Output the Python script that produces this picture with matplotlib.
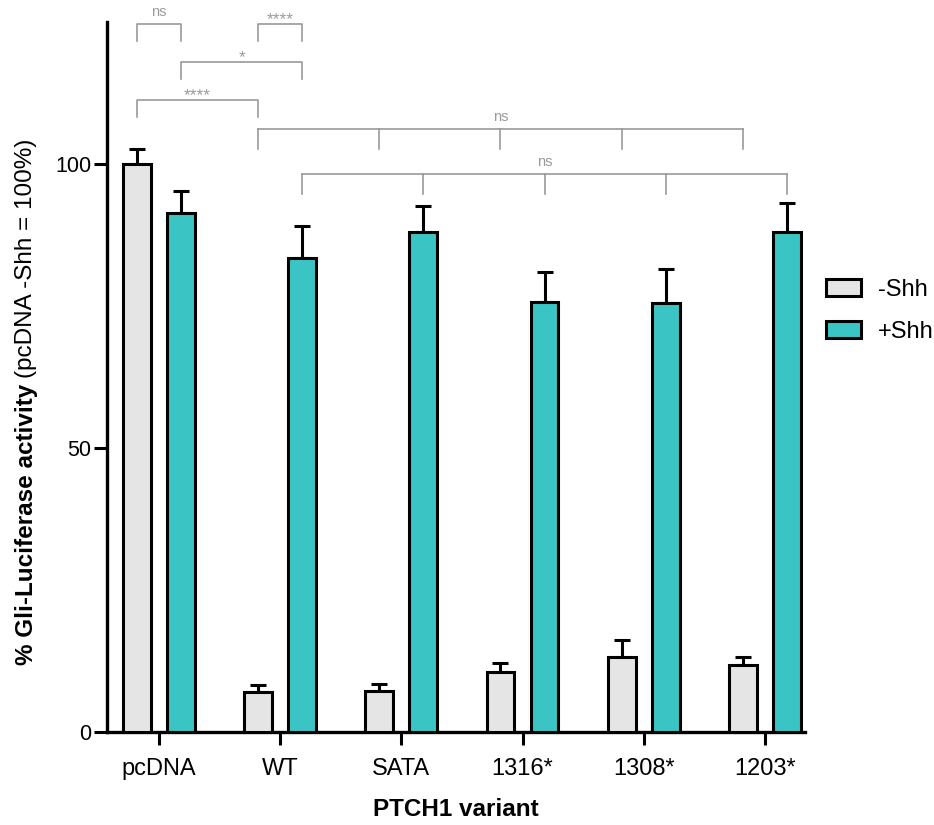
import numpy as np
import matplotlib.pyplot as plt

plt.rcParams['font.family'] = ['Liberation Sans', 'DejaVu Sans']

variants = ['pcDNA', 'WT', 'SATA', '1316*', '1308*', '1203*']
minus_shh = [100.0, 7.1, 7.2, 10.6, 13.2, 11.8]
minus_err = [2.6, 1.1, 1.3, 1.6, 3.0, 1.4]
plus_shh = [91.4, 83.4, 88.0, 75.7, 75.5, 88.0]
plus_err = [3.9, 5.7, 4.6, 5.3, 6.0, 5.1]

# significance: (group, series) pairs, bracket height, label
pair_tests = [
    ((0, 0), (0, 1), 124.7, 'ns'),
    ((1, 0), (1, 1), 124.7, '****'),
    ((0, 1), (1, 1), 118.0, '*'),
    ((0, 0), (1, 0), 111.3, '****'),
]
multi_tests = [
    (0, [1, 2, 3, 4, 5], 106.2, 'ns'),
    (1, [1, 2, 3, 4, 5], 98.2, 'ns'),
]

grey = '#e5e5e5'
teal = '#3bc4c4'
sig_col = '#9a9a9a'

fig = plt.figure(figsize=(9.34, 8.25), dpi=100)
ax = fig.add_axes([0.1146, 0.1127, 0.747, 0.8606])

x = np.arange(len(variants))
w = 0.23
off = 0.182
ax.bar(x - off, minus_shh, w, color=grey, edgecolor='black', linewidth=2.2, label='-Shh', zorder=3)
ax.bar(x + off, plus_shh, w, color=teal, edgecolor='black', linewidth=2.2, label='+Shh', zorder=3)
ax.errorbar(x - off, minus_shh, yerr=[np.zeros(6), minus_err], fmt='none', ecolor='black',
            elinewidth=2.2, capsize=6, capthick=2.2, zorder=2)
ax.errorbar(x + off, plus_shh, yerr=[np.zeros(6), plus_err], fmt='none', ecolor='black',
            elinewidth=2.2, capsize=6, capthick=2.2, zorder=2)

ax.set_xlim(-0.43, 5.33)
ax.set_ylim(0, 125)
ax.set_yticks([0, 50, 100])
ax.set_xticks(x)
ax.set_xticklabels(variants)
ax.tick_params(axis='both', width=2.2, length=9.5)
ax.tick_params(axis='x', labelsize=17, pad=9)
ax.tick_params(axis='y', labelsize=15.5, pad=2)
for s in ['top', 'right']:
    ax.spines[s].set_visible(False)
for s in ['left', 'bottom']:
    ax.spines[s].set_linewidth(2.4)

leg_h = 3.0


def xpos(g, s):
    return g - off if s == 0 else g + off


def sig_label(xc, h, lab):
    if lab == 'ns':
        ax.text(xc, h + 0.9, lab, ha='center', va='bottom', fontsize=10.5, color=sig_col)
    else:
        ax.text(xc, h - 0.6, lab, ha='center', va='bottom', fontsize=12.5, color=sig_col)


for a, b, h, lab in pair_tests:
    x1, x2 = xpos(*a), xpos(*b)
    ax.plot([x1, x1, x2, x2], [h - leg_h, h, h, h - leg_h], color=sig_col, lw=1.2, clip_on=False)
    sig_label((x1 + x2) / 2, h, lab)

for s, groups, h, lab in multi_tests:
    xs = [xpos(g, s) for g in groups]
    ax.plot([xs[0], xs[-1]], [h, h], color=sig_col, lw=1.2, clip_on=False)
    for xx in xs:
        ax.plot([xx, xx], [h, h - 3.5], color=sig_col, lw=1.2, clip_on=False)
    sig_label((xs[0] + xs[-1]) / 2, h, lab)

ax.legend(loc='center left', bbox_to_anchor=(1.0, 0.593), frameon=False, fontsize=17,
          handlelength=1.5, handleheight=0.75, labelspacing=0.85, handletextpad=0.7)

ax.set_xlabel('PTCH1 variant', fontsize=17.5, fontweight='bold', labelpad=13)

# two-part y label: bold + regular, centred as one line
fig.canvas.draw()
r = fig.canvas.get_renderer()
xl = 0.028
t1 = fig.text(xl, 0.0, '% Gli-Luciferase activity', rotation=90, fontsize=17.5,
              fontweight='bold', ha='center', va='bottom')
t2 = fig.text(xl, 0.0, '(pcDNA -Shh = 100%)', rotation=90, fontsize=17.5,
              ha='center', va='bottom')
H = fig.bbox.height
h1 = t1.get_window_extent(r).height / H
h2 = t2.get_window_extent(r).height / H
gap = 0.007
start = 0.513 - (h1 + gap + h2) / 2
t1.set_y(start)
t2.set_y(start + h1 + gap)

fig.savefig('out.png', dpi=100)
